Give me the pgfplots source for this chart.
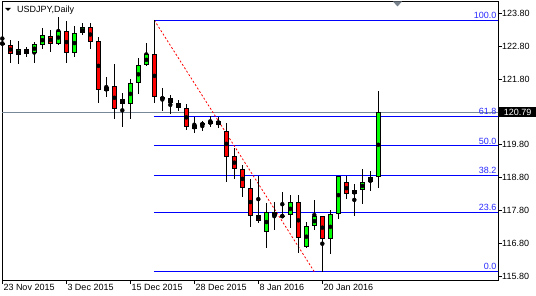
\documentclass[border=0pt]{standalone}
\usepackage{fontspec}
\setmainfont{Liberation Sans}
\usepackage{pgfplots}
\usepackage{pgfplotstable}
\pgfplotsset{compat=1.18}
\definecolor{bullc}{RGB}{0,255,0}
\definecolor{bearc}{RGB}{255,0,0}
\definecolor{fibc}{RGB}{0,0,255}
\definecolor{fibtext}{RGB}{40,40,255}
\definecolor{pricec}{RGB}{119,136,153}
\definecolor{shiftc}{RGB}{120,130,140}

\pgfplotstableread{
i o h l c
2 122.521 122.957 122.247 122.704
4 122.582 122.917 122.296 122.865
5 122.826 123.343 122.704 123.139
7 122.874 123.696 122.826 123.252
9 122.600 123.413 122.478 123.191
10 123.191 123.495 123.130 123.374
13 121.425 121.869 121.242 121.547
16 121.029 121.790 120.572 121.668
17 121.668 122.430 121.343 122.217
18 122.217 122.896 122.200 122.552
24 120.268 120.651 120.164 120.399
25 120.389 120.520 120.216 120.460
26 120.438 120.673 120.347 120.511
33 117.150 118.014 116.662 117.740
36 117.649 118.267 117.271 118.045
38 116.674 117.445 116.653 117.323
39 117.323 118.115 117.201 117.618
41 116.918 117.810 116.461 117.679
42 117.679 118.860 117.527 118.846
44 118.288 118.602 117.637 118.410
45 118.410 119.059 118.008 118.678
46 118.654 119.004 118.398 118.806
47 118.806 121.434 118.489 120.790
}\bull

\pgfplotstableread{
i o h l c
0 122.896 123.261 122.804 122.865
1 122.835 122.987 122.296 122.561
3 122.704 122.783 122.478 122.552
6 123.109 123.291 122.631 122.874
8 123.252 123.575 122.296 122.600
11 123.374 123.495 122.722 122.935
12 122.947 123.069 121.078 121.455
14 121.577 122.256 120.572 120.877
15 121.181 121.364 120.329 121.029
19 122.552 123.590 121.059 121.242
20 121.242 121.516 120.834 121.181
21 121.212 121.303 120.724 121.059
22 121.059 121.151 120.816 120.907
23 120.907 121.053 120.246 120.353
27 120.511 120.651 120.307 120.408
28 120.216 120.450 118.672 119.433
29 119.455 119.707 118.754 119.050
30 119.050 119.181 118.215 118.471
31 118.471 118.745 117.302 117.637
32 117.658 118.861 117.424 117.491
34 117.740 118.045 117.201 117.618
35 117.640 118.374 117.603 117.610
37 118.045 118.267 116.492 116.949
40 117.628 117.640 115.931 116.918
43 118.654 118.846 118.154 118.297
}\bear

\begin{document}
\begin{tikzpicture}
\useasboundingbox (0,0) rectangle (536pt,296pt);
\begin{axis}[
  at={(2pt,16pt)}, anchor=south west,
  scale only axis, width=496pt, height=279pt,
  xmin=-0.0375, xmax=61.96, ymin=115.679, ymax=124.175,
  clip mode=individual,
  axis line style={black, line width=0.8pt},
  tick align=outside, major tick length=4pt,
  tick style={black, line width=0.8pt},
  xtick pos=bottom, ytick pos=right,
  xtick={0,8,16,24,32,40},
  xticklabels={23 Nov 2015, 3 Dec 2015, 15 Dec 2015, 28 Dec 2015, 8 Jan 2016, 20 Jan 2016},
  xticklabel style={anchor=north west, inner sep=0pt, xshift=1pt},
  ytick={115.8,116.8,117.8,118.8,119.8,121.8,122.8,123.8},
  yticklabels={115.80,116.80,117.80,118.80,119.80,121.80,122.80,123.80},
  yticklabel style={anchor=west, inner sep=0pt},
  tick label style={font=\fontsize{9}{10}\selectfont},
]
% current price line
\addplot[pricec, line width=1pt, forget plot] coordinates {(-1,120.79) (63,120.79)};
% fibonacci levels
\addplot[fibc, line width=1pt, forget plot] coordinates {(19,123.59) (63,123.59)};
\addplot[fibc, line width=1pt, forget plot] coordinates {(19,120.664) (63,120.664)};
\addplot[fibc, line width=1pt, forget plot] coordinates {(19,119.76) (63,119.76)};
\addplot[fibc, line width=1pt, forget plot] coordinates {(19,118.856) (63,118.856)};
\addplot[fibc, line width=1pt, forget plot] coordinates {(19,117.738) (63,117.738)};
\addplot[fibc, line width=1pt, forget plot] coordinates {(19,115.93) (63,115.93)};
% trend line
\addplot[bearc, line width=0.8pt, dash pattern=on 2pt off 2pt, forget plot] coordinates {(19,123.59) (39,115.93)};
% wicks
\addplot[only marks, mark=none, forget plot, error bars/.cd, y dir=both, y explicit, error mark=none,
  error bar style={black, line width=1pt}]
  table[x=i, y expr={(\thisrow{h}+\thisrow{l})/2}, y error expr={(\thisrow{h}-\thisrow{l})/2}] {\bull};
\addplot[only marks, mark=none, forget plot, error bars/.cd, y dir=both, y explicit, error mark=none,
  error bar style={black, line width=1pt}]
  table[x=i, y expr={(\thisrow{h}+\thisrow{l})/2}, y error expr={(\thisrow{h}-\thisrow{l})/2}] {\bear};
% bodies outline
\addplot[only marks, mark=none, forget plot, error bars/.cd, y dir=both, y explicit, error mark=none,
  error bar style={black, line width=5pt}]
  table[x=i, y expr={(\thisrow{o}+\thisrow{c})/2}, y error expr={abs(\thisrow{o}-\thisrow{c})/2}] {\bull};
\addplot[only marks, mark=none, forget plot, error bars/.cd, y dir=both, y explicit, error mark=none,
  error bar style={black, line width=5pt}]
  table[x=i, y expr={(\thisrow{o}+\thisrow{c})/2}, y error expr={abs(\thisrow{o}-\thisrow{c})/2}] {\bear};
% bodies fill
\addplot[only marks, mark=none, forget plot, error bars/.cd, y dir=both, y explicit, error mark=none,
  error bar style={bullc, line width=3pt}]
  table[x=i, y expr={(\thisrow{o}+\thisrow{c})/2}, y error expr={max(abs(\thisrow{o}-\thisrow{c})/2-0.0305,0)}] {\bull};
\addplot[only marks, mark=none, forget plot, error bars/.cd, y dir=both, y explicit, error mark=none,
  error bar style={bearc, line width=3pt}]
  table[x=i, y expr={(\thisrow{o}+\thisrow{c})/2}, y error expr={max(abs(\thisrow{o}-\thisrow{c})/2-0.0305,0)}] {\bear};
% fib labels
\foreach \lv/\tx in {123.59/100.0, 120.664/61.8, 119.76/50.0, 118.856/38.2, 117.738/23.6, 115.93/0.0}{
  \edef\temp{\noexpand\node[anchor=south east, inner sep=0pt, xshift=-1.5pt, yshift=1.5pt, text=fibtext, font=\noexpand\fontsize{9}{10}\noexpand\selectfont] at (axis cs:61.96,\lv) {\tx};}
  \temp
}
% current price box
\node[anchor=west, fill=black, text=white, inner sep=0pt, minimum height=10.5pt, minimum width=37pt, xshift=1pt, font=\fontsize{9}{10}\selectfont] at (axis cs:61.96,120.79) {120.79};
\end{axis}
% title
\fill[black] (5pt,288pt) -- (11pt,288pt) -- (8pt,285pt) -- cycle;
\node[anchor=base west, inner sep=0pt, font=\fontsize{9}{10}\selectfont] at (17pt,283pt) {USDJPY,Daily};
% chart shift marker
\fill[shiftc] (393pt,294.5pt) -- (402pt,294.5pt) -- (397.5pt,289.5pt) -- cycle;
\end{tikzpicture}
\end{document}
